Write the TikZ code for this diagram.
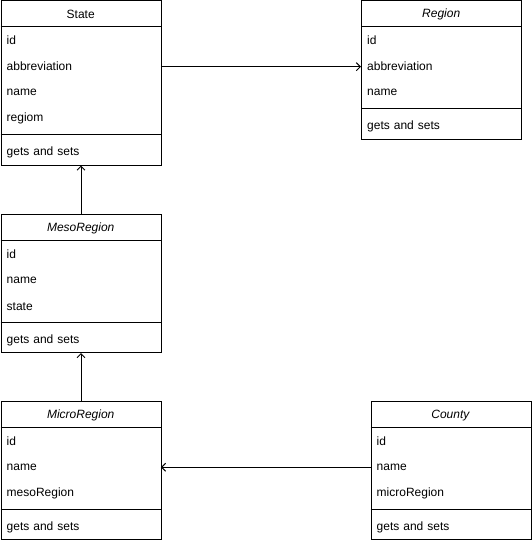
\documentclass[tikz,border=0pt]{standalone}
\usepackage{fontspec}
\setmainfont{Liberation Sans}
\usetikzlibrary{arrows.meta}

% One UML class: id, x, y, title, number of attributes, attribute list
\newcommand\umlclass[6]{%
  \pgfmathsetmacro\classh{60+26*#5}%
  \node[umlbox, minimum height=\classh pt] (#1) at (#2,#3) {};
  \node[classhead] (#1-title) at (#2,#3) {#4};
  \foreach \a [count=\i] in {#6} {\node[classrow] (#1-\a) at (#2,{#3+26*\i}) {\a};}
  \draw[classrule] (#2,{#3+26}) -- ++(160,0);
  \draw[classrule] (#2,{#3+30+26*#5}) -- ++(160,0);
  \node[classrow] (#1-ops) at (#2,{#3+34+26*#5}) {gets and sets};
}

\begin{document}
\begin{tikzpicture}[x=1pt,y=-1pt,
  font=\fontsize{12}{14}\selectfont,
  umlbox/.style={draw=black, line width=1pt, fill=white, anchor=north west,
    minimum width=160pt, inner sep=0pt},
  classhead/.style={anchor=north west, minimum width=160pt, minimum height=26pt,
    inner sep=0pt, yshift=-1pt},
  classrow/.style={anchor=north west, text width=148pt, inner xsep=6pt, inner ysep=0pt,
    minimum height=26pt, align=left, yshift=-1pt},
  classrule/.style={line width=1pt},
  assoc/.style={line width=1pt, -{Straight Barb[length=4pt,width=8pt]}}
]
\useasboundingbox (0,0) rectangle (531,543);

\umlclass{state}{0.5}{0.5}{State}{4}{id,abbreviation,name,regiom}
\umlclass{region}{361}{0.5}{\textit{Region}}{3}{id,abbreviation,name}
\umlclass{meso}{0.5}{214}{\textit{MesoRegion}}{3}{id,name,state}
\umlclass{micro}{0.5}{401}{\textit{MicroRegion}}{3}{id,name,mesoRegion}
\umlclass{county}{370.5}{401}{\textit{County}}{3}{id,name,microRegion}

\draw[assoc] (state-abbreviation.east) -- (region-abbreviation.west);
\draw[assoc] (meso.north) -- (state.south);
\draw[assoc] (micro.north) -- (meso.south);
\draw[assoc] (county-name.west) -- (micro-name.east);
\end{tikzpicture}
\end{document}
